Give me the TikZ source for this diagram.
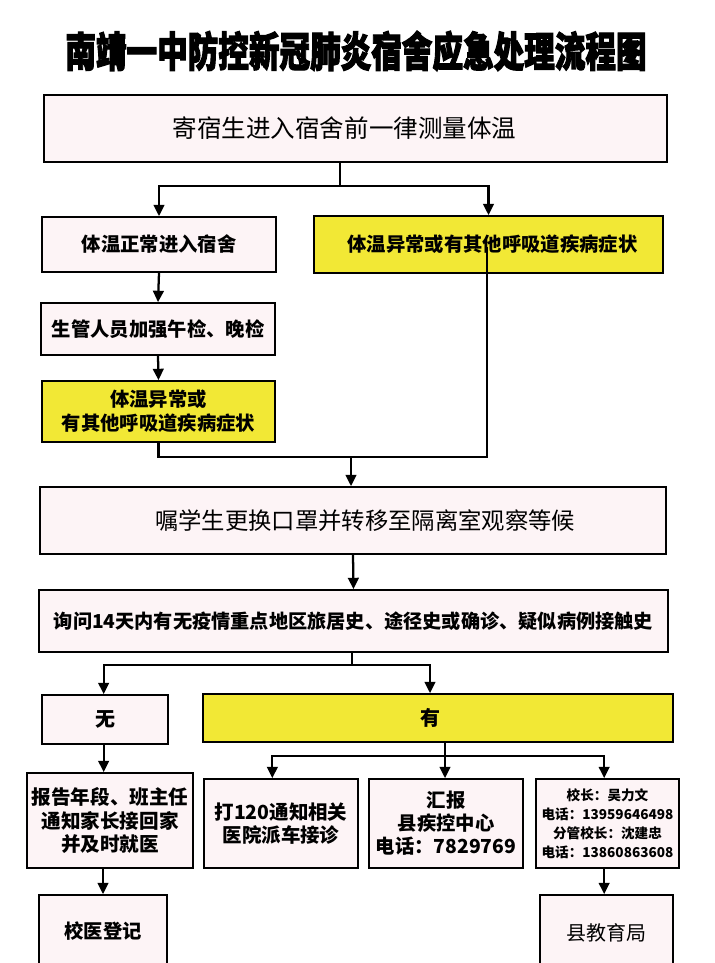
\documentclass[tikz,border=0pt]{standalone}
\usepackage{fontspec}
\setmainfont{Noto Sans CJK SC}
\newfontfamily\titlefont[BoldFeatures={FakeBold=3}]{Noto Sans CJK SC}
\usetikzlibrary{arrows.meta,calc}
\definecolor{boxpink}{HTML}{FDF4F6}
\definecolor{boxyellow}{HTML}{F2E835}
\newcommand{\fsz}[2]{\fontsize{#1pt}{#2pt}\selectfont}
\tikzset{
  box/.style={draw=black, line width=1.3pt, fill=boxpink, inner sep=0pt, align=center, text=black, anchor=center},
  ybox/.style={box, fill=boxyellow},
  conn/.style={line width=1.7pt, draw=black},
  arr/.style={conn, -{Triangle[length=8.5pt,width=8pt]}},
}
\begin{document}
\begin{tikzpicture}[x=0.75pt,y=-0.75pt]
\clip (0,0) rectangle (714,963);
\fill[white] (0,0) rectangle (714,963);
% title
\node (title) at (356,51) {\scalebox{0.74}[1]{\fsz{31}{31}\titlefont\bfseries 南靖一中防控新冠肺炎宿舍应急处理流程图}};
% boxes
\node[box, minimum width=467.25pt, minimum height=50.25pt, font=\fsz{18.4}{22}] (b1) at (355.5,128.5) {寄宿生进入宿舍前一律测量体温\hspace*{16.5pt}};
\node[box, minimum width=175.5pt, minimum height=41.25pt, font=\fsz{14.5}{18}\bfseries] (b2) at (159,244.5) {体温正常进入宿舍};
\node[ybox, minimum width=261.75pt, minimum height=42.75pt, font=\fsz{14.5}{18}\bfseries] (b3) at (488.5,244.5) {\hspace*{6pt}体温异常或有其他呼吸道疾病症状};
\node[box, minimum width=175.5pt, minimum height=39pt, font=\fsz{14.5}{18}\bfseries] (b4) at (158,329) {生管人员加强午检、晚检};
\node[ybox, minimum width=174.75pt, minimum height=45.75pt, font=\fsz{14.5}{18}\bfseries] (b5) at (158.5,411.5) {体温异常或\\有其他呼吸道疾病症状};
\node[box, minimum width=469.5pt, minimum height=50.25pt, font=\fsz{17.5}{21}] (b6) at (353,520.5) {\hspace*{18pt}嘱学生更换口罩并转移至隔离室观察等候};
\node[box, minimum width=471.75pt, minimum height=46.5pt, font=\fsz{14.4}{18}\bfseries] (b7) at (353.5,621) {询问14天内有无疫情重点地区旅居史、途径史或确诊、疑似病例接触史};
\node[box, minimum width=94.5pt, minimum height=36.75pt, font=\fsz{15}{18}\bfseries] (b8) at (105,719.5) {无};
\node[ybox, minimum width=352.5pt, minimum height=36pt, font=\fsz{15}{18}\bfseries] (b9) at (438,718) {有\hspace*{12pt}};
\node[box, minimum width=124.5pt, minimum height=71.25pt, font=\fsz{14.7}{17.6}\bfseries] (b10) at (110,820.5) {报告年段、班主任\\通知家长接回家\\并及时就医};
\node[box, minimum width=115.5pt, minimum height=66.75pt, font=\fsz{14.6}{17.3}\bfseries] (b11) at (281,823.5) {打120通知相关\\医院派车接诊};
\node[box, minimum width=115.5pt, minimum height=66.75pt, font=\fsz{14.5}{17.3}\bfseries] (b12) at (446,823.5) {汇报\\县疾控中心\\电话：7829769};
\node[box, minimum width=107.25pt, minimum height=66.75pt, font=\fsz{10.2}{14.3}\bfseries] (b13) at (607.5,823.5) {校长：吴力文\\电话：13959646498\\分管校长：沈建忠\\电话：13860863608};
\node[box, minimum width=96pt, minimum height=56.25pt, font=\fsz{14.5}{18}\bfseries] (b14) at (103,932.5) {\raisebox{4pt}{校医登记}};
\node[box, minimum width=99.75pt, minimum height=56.25pt, font=\fsz{15}{18}] (b15) at (606.5,932.5) {县教育局};
% junction coordinates
\coordinate (j1) at (340,186);
\coordinate (j2) at (351,457);
\coordinate (b3in) at (487,247);
\coordinate (j3) at (352,665);
\coordinate (j4) at (445,756);
% connectors
\draw[conn] (b1.south -| j1) -- (j1);
\draw[arr] (j1) -| (b2.north);
\draw[arr] (j1) -| (b3.north);
\draw[arr] (b2.south) -- (b4.north);
\draw[arr] (b4.south) -- (b5.north);
\draw[conn] (b5.south) |- (j2) -| (b3in);
\draw[arr] (j2) -- (j2 |- b6.north);
\draw[arr] (b6.south) -- (b7.north);
\draw[conn] (b7.south -| j3) -- (j3);
\draw[arr] (j3) -| ([xshift=-1pt]b8.north);
\draw[arr] (j3) -| ([xshift=-6pt]b9.north);
\draw[arr] ([xshift=-1pt]b8.south) -- ([xshift=-1pt]b8.south |- b10.north);
\draw[conn] (b9.south -| j4) -- (j4);
\draw[arr] (j4) -| ([xshift=-6.5pt]b11.north);
\draw[arr] (j4) -- (j4 |- b12.north);
\draw[arr] (j4) -| ([xshift=-2.5pt]b13.north);
\draw[arr] (b10.south -| b14.north) -- (b14.north);
\draw[arr] ([xshift=-2.5pt]b13.south) -- ([xshift=-2.5pt]b13.south |- b15.north);
\end{tikzpicture}
\end{document}
